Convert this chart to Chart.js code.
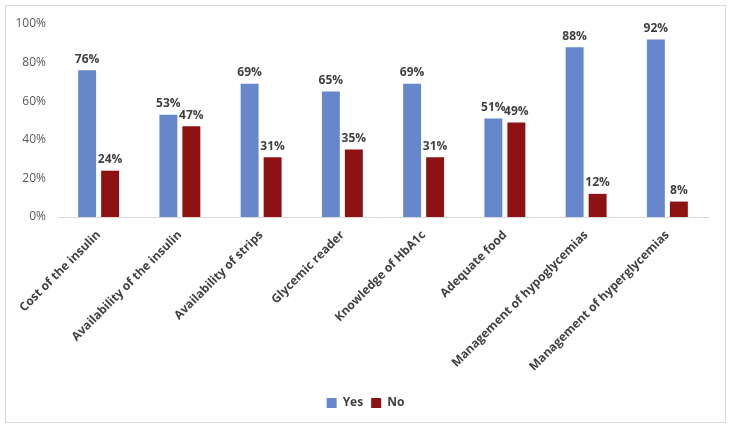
<!DOCTYPE html>
<html>
<head>
<meta charset="utf-8">
<script src="https://cdn.jsdelivr.net/npm/chart.js@4.4.1/dist/chart.umd.min.js"></script>
<style>
  html, body { margin: 0; padding: 0; background: #fff; }
  #frame { position: absolute; left: 5px; top: 5px; width: 719px; height: 416px; border: 1px solid #d9d9d9; }
  #wrap { position: absolute; left: 0; top: 0; width: 731px; height: 430px; }
</style>
</head>
<body>
<div id="frame"></div>
<div id="wrap"><canvas id="chart"></canvas></div>
<script>
  const categories = [
    'Cost of the insulin',
    'Availability of the insulin',
    'Availability of strips',
    'Glycemic reader',
    'Knowledge of HbA1c',
    'Adequate food',
    'Management of hypoglycemias',
    'Management of hyperglycemias'
  ];
  const yesValues = [76, 53, 69, 65, 69, 51, 88, 92];
  const noValues = [24, 47, 31, 35, 31, 49, 12, 8];
  const yTicks = [0, 20, 40, 60, 80, 100];

  const FONT = "'Open Sans', 'Liberation Sans', sans-serif";

  // etiquetas de valor sobre as barras
  const valueLabels = {
    id: 'valueLabels',
    afterDatasetsDraw(chart) {
      const ctx = chart.ctx;
      ctx.save();
      ctx.font = `bold 12px ${FONT}`;
      ctx.fillStyle = '#404040';
      ctx.textAlign = 'center';
      ctx.textBaseline = 'bottom';
      chart.data.datasets.forEach((ds, i) => {
        chart.getDatasetMeta(i).data.forEach((bar, j) => {
          ctx.fillText(ds.data[j] + '%', bar.x, bar.y - 5);
        });
      });
      ctx.restore();
    }
  };

  new Chart(document.getElementById('chart'), {
    type: 'bar',
    data: {
      labels: categories,
      datasets: [
        { label: 'Yes', data: yesValues, backgroundColor: '#6687cc' },
        { label: 'No', data: noValues, backgroundColor: '#8e1214' }
      ]
    },
    options: {
      responsive: true,
      maintainAspectRatio: false,
      animation: false,
      categoryPercentage: 0.566,
      barPercentage: 0.78,
      layout: { padding: { left: 14, right: 14, top: 24, bottom: 11 } },
      scales: {
        x: {
          grid: { display: false },
          border: { display: true, color: '#d9d9d9' },
          afterFit(scale) {
            scale.paddingLeft = 0;
            scale.paddingRight = 0;
            scale.height = 172;
          },
          ticks: {
            autoSkip: false,
            maxRotation: 45,
            minRotation: 45,
            color: '#404040',
            font: { family: FONT, size: 12, weight: 'bold' }
          }
        },
        y: {
          min: 0,
          max: 100,
          afterBuildTicks(axis) { axis.ticks = yTicks.map(v => ({ value: v })); },
          afterFit(scale) {
            scale.width = 44;
            scale.paddingTop = 0;
            scale.paddingBottom = 0;
          },
          grid: { display: false, drawTicks: false },
          border: { display: false },
          ticks: {
            padding: 12,
            color: '#595959',
            font: { family: FONT, size: 12 },
            callback: v => v + '%'
          }
        },
        // eixo vazio à direita, só para reservar espaço
        yRight: {
          position: 'right',
          grid: { display: false, drawTicks: false },
          border: { display: false },
          ticks: { display: false },
          afterFit(scale) {
            scale.width = 9;
            scale.paddingTop = 0;
            scale.paddingBottom = 0;
          }
        }
      },
      plugins: {
        legend: {
          position: 'bottom',
          labels: {
            boxWidth: 10,
            boxHeight: 10,
            padding: 8,
            color: '#404040',
            font: { family: FONT, size: 12, weight: 'bold' }
          }
        },
        tooltip: { enabled: false }
      }
    },
    plugins: [valueLabels]
  });
</script>
</body>
</html>
